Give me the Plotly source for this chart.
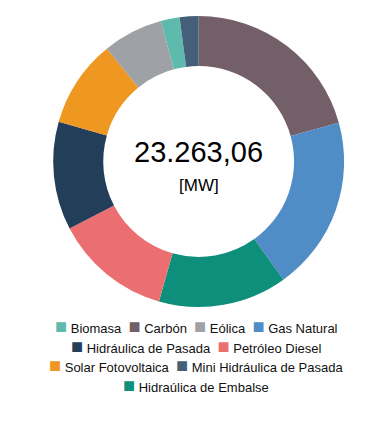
import plotly.graph_objects as go

# Slice order (clockwise from 12 o'clock)
slice_labels = ["Carbón", "Gas Natural", "Hidraúlica de Embalse", "Petróleo Diesel",
                "Hidráulica de Pasada", "Solar Fotovoltaica", "Eólica", "Biomasa",
                "Mini Hidráulica de Pasada"]
slice_values = [4816.0, 4513.0, 3327.0, 3018.0, 2798.0, 2262.0, 1557.0, 485.0, 488.06]
colors = {
    "Biomasa": "#5DBAAC",
    "Carbón": "#725F67",
    "Eólica": "#9EA1A5",
    "Gas Natural": "#508CC5",
    "Hidráulica de Pasada": "#233E59",
    "Petróleo Diesel": "#EB6F71",
    "Solar Fotovoltaica": "#EE9721",
    "Mini Hidráulica de Pasada": "#455F79",
    "Hidraúlica de Embalse": "#0D8F7B",
}
# Legend rows
legend_rows = [
    ["Biomasa", "Carbón", "Eólica", "Gas Natural"],
    ["Hidráulica de Pasada", "Petróleo Diesel"],
    ["Solar Fotovoltaica", "Mini Hidráulica de Pasada"],
    ["Hidraúlica de Embalse"],
]
total_text = "23.263,06"
unit_text = "[MW]"

FONT = "Liberation Sans, Arial, Helvetica, sans-serif"

fig = go.Figure()
fig.add_trace(go.Pie(
    labels=slice_labels, values=slice_values,
    marker=dict(colors=[colors[l] for l in slice_labels], line=dict(width=0)),
    hole=0.656, sort=False, direction="clockwise", rotation=0,
    textinfo="none", showlegend=False, hoverinfo="label+value",
    domain=dict(x=[0.1357, 0.8778], y=[0.3117, 0.9641]),
))


def legend_entry(lab):
    return (f"<span style='color:{colors[lab]};font-size:20px'>\u25A0</span>"
            f"\u00a0{lab}")


row_y = [0.2684, 0.2236, 0.1810, 0.1375]
annotations = [
    dict(text=total_text, x=0.507, y=0.659, xref="paper", yref="paper",
         showarrow=False, font=dict(family=FONT, size=29, color="black")),
    dict(text=unit_text, x=0.507, y=0.583, xref="paper", yref="paper",
         showarrow=False, font=dict(family=FONT, size=17, color="black")),
]
for ri, row in enumerate(legend_rows):
    annotations.append(dict(
        text="\u00a0\u00a0".join(legend_entry(l) for l in row),
        x=0.5, y=row_y[ri], xref="paper", yref="paper", xanchor="center",
        yanchor="middle", showarrow=False,
        font=dict(family=FONT, size=13, color="#111111"),
    ))

fig.update_layout(
    width=392, height=446,
    margin=dict(l=0, r=0, t=0, b=0),
    paper_bgcolor="white", plot_bgcolor="white",
    showlegend=False,
    annotations=annotations,
)

fig.write_html("out.html", config={"displayModeBar": False},
               post_script="document.body.style.margin='0';")
